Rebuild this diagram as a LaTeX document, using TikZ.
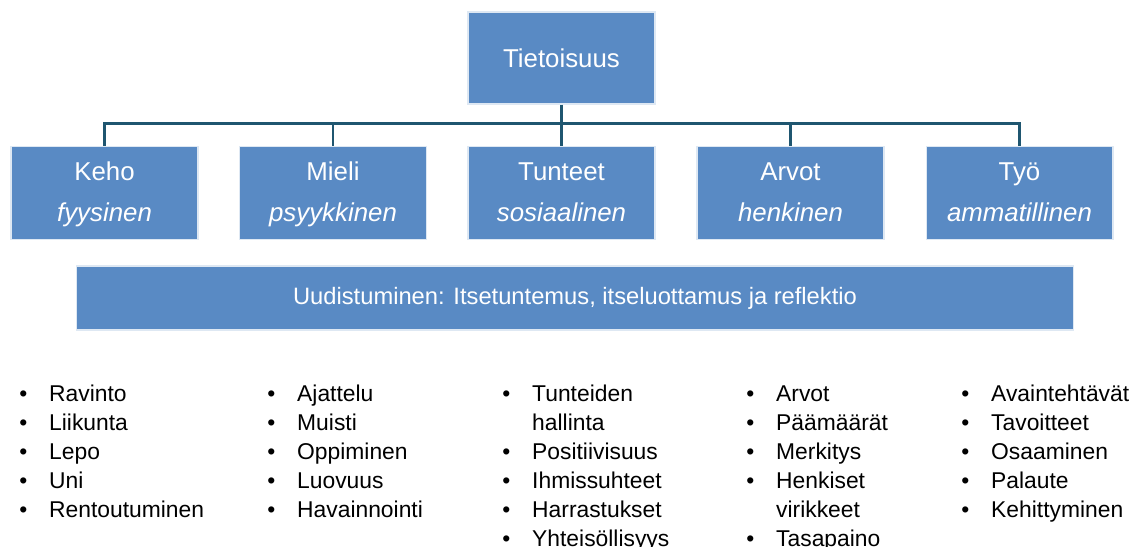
\documentclass[tikz,border=0pt]{standalone}
\usepackage{fontspec}
\setmainfont{Liberation Sans}
\usepackage{tikz}
\usetikzlibrary{positioning}
\definecolor{boxblue}{RGB}{89,138,196}
\definecolor{linkteal}{RGB}{31,86,112}
\tikzset{>=latex}
\tikzset{
  areabox/.style = {rectangle, fill=boxblue, draw=white!80!boxblue, line width=0.6pt,
    text=white, minimum width=3.74cm, minimum height=1.84cm, align=center,
    font=\fontsize{14.7}{23.3}\selectfont},
  band/.style = {rectangle, fill=boxblue, draw=white!80!boxblue, line width=0.6pt,
    text=white, minimum width=19.96cm, minimum height=1.28cm,
    font=\fontsize{13.5}{16}\selectfont},
  link/.style = {draw=linkteal, line width=1.4pt},
  itemlist/.style = {anchor=base west, inner sep=0, align=left,
    font=\fontsize{13}{16.5}\selectfont}
}
\newcommand{\itemcol}[1]{\begin{tabular}[t]{@{}p{17pt}@{}l@{}}#1\end{tabular}}

\begin{document}
\begin{tikzpicture}[x=0.02cm, y=-0.02cm]
\clip (0,0) rectangle (1136,547);
\node [areabox] (top) at (561.5, 58) {Tietoisuus};
\node [areabox] (keho) at (104.5, 193) {\strut Keho\\\strut\textit{fyysinen}};
\node [areabox] (mieli) at (333, 193) {\strut Mieli\\\strut\textit{psyykkinen}};
\node [areabox] (tunteet) at (561.5, 193) {\strut Tunteet\\\strut\textit{sosiaalinen}};
\node [areabox] (arvot) at (790.5, 193) {\strut Arvot\\\strut\textit{henkinen}};
\node [areabox] (tyo) at (1019.5, 193) {\strut Työ\\\strut\textit{ammatillinen}};
\node [band] (uud) at (575, 298) {Uudistuminen: Itsetuntemus, itseluottamus ja reflektio};
\draw [link] (top.south) -- (tunteet.north);
\draw [link] (keho.north) -- ++(0,-22) -| (tyo.north);
\foreach \n in {mieli, arvot}
  \draw [link] (\n.north) -- ++(0,-22);
\node [itemlist] (kehol) at (19, 401.7) {\itemcol{• & Ravinto\\ • & Liikunta\\ • & Lepo\\ • & Uni\\ • & Rentoutuminen}};
\node [itemlist] (mielil) at (267, 401.7) {\itemcol{• & Ajattelu\\ • & Muisti\\ • & Oppiminen\\ • & Luovuus\\ • & Havainnointi}};
\node [itemlist] (tunteetl) at (502, 401.7) {\itemcol{• & Tunteiden\\ & hallinta\\ • & Positiivisuus\\ • & Ihmissuhteet\\ • & Harrastukset\\ • & Yhteisöllisyys}};
\node [itemlist] (arvotl) at (746, 401.7) {\itemcol{• & Arvot\\ • & Päämäärät\\ • & Merkitys\\ • & Henkiset\\ & virikkeet\\ • & Tasapaino}};
\node [itemlist] (tyol) at (961, 401.7) {\itemcol{• & Avaintehtävät\\ • & Tavoitteet\\ • & Osaaminen\\ • & Palaute\\ • & Kehittyminen}};
\end{tikzpicture}
\end{document}
